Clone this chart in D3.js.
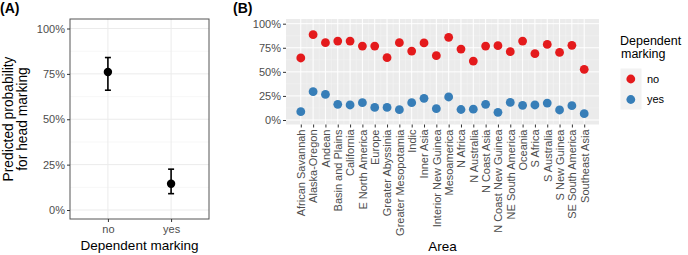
<!DOCTYPE html>
<html>
<head>
<meta charset="utf-8">
<script src="https://cdn.jsdelivr.net/npm/d3@7"></script>
<style>
  html, body { margin: 0; padding: 0; background: #fff; }
  svg { display: block; font-family: "Liberation Sans", Arial, sans-serif; }
</style>
</head>
<body>
<div id="chart"></div>
<script>
// ---- data ----
const depCategories = ['no', 'yes']
const headProb = [0.76, 0.145]
const headLower = [0.66, 0.09]
const headUpper = [0.84, 0.225]

const areas = [
  'African Savannah', 'Alaska-Oregon', 'Andean', 'Basin and Plains', 'California',
  'E North America', 'Europe', 'Greater Abyssinia', 'Greater Mesopotamia', 'Indic',
  'Inner Asia', 'Interior New Guinea', 'Mesoamerica', 'N Africa', 'N Australia',
  'N Coast Asia', 'N Coast New Guinea', 'NE South America', 'Oceania', 'S Africa',
  'S Australia', 'S New Guinea', 'SE South America', 'Southeast Asia'
]
const noValues = [
  0.644, 0.886, 0.803, 0.82, 0.82, 0.768, 0.768, 0.647, 0.803, 0.716,
  0.80, 0.668, 0.858, 0.737, 0.612, 0.768, 0.772, 0.71, 0.82, 0.689,
  0.785, 0.702, 0.775, 0.526
]
const yesValues = [
  0.086, 0.294, 0.266, 0.163, 0.156, 0.18, 0.131, 0.131, 0.107, 0.18,
  0.225, 0.118, 0.239, 0.109, 0.112, 0.163, 0.08, 0.183, 0.152, 0.156,
  0.176, 0.104, 0.149, 0.066
]
const pctTicks = [0, 0.25, 0.5, 0.75, 1]
const minorTicks = [0.125, 0.375, 0.625, 0.875]
const legendLabels = ['no', 'yes']
const seriesColors = ['#E41A1C', '#377EB8']

const W = 688, H = 255
const tickFill = '#4D4D4D'
const fmt = d3.format('.0%')

const svg = d3.select('#chart').append('svg')
  .attr('width', W).attr('height', H)

function styleAxis(g) {
  g.select('.domain').remove()
  g.selectAll('.tick line').attr('stroke', '#333333')
  g.selectAll('.tick text')
    .attr('fill', tickFill).attr('font-size', '11px')
    .attr('font-family', '"Liberation Sans", Arial, sans-serif')
}

// ================= Panel A =================
const A = { left: 70, right: 209, top: 19, bottom: 219 }
const xA = d3.scalePoint().domain(depCategories).range([A.left, A.right]).padding(0.6)
const yA = d3.scaleLinear().domain([0, 1]).range([210, 28.5])

svg.append('text')
  .attr('x', 0).attr('y', 13)
  .attr('font-size', '14px').attr('font-weight', 'bold')
  .attr('fill', '#000').text('(A)')

const gA = svg.append('g')
gA.append('rect')
  .attr('x', A.left).attr('y', A.top)
  .attr('width', A.right - A.left).attr('height', A.bottom - A.top)
  .attr('fill', '#fff')

gA.selectAll('.minor').data(minorTicks).join('line')
  .attr('x1', A.left).attr('x2', A.right)
  .attr('y1', d => yA(d)).attr('y2', d => yA(d))
  .attr('stroke', '#F2F2F2').attr('stroke-width', 0.6)
gA.selectAll('.major').data(pctTicks).join('line')
  .attr('x1', A.left).attr('x2', A.right)
  .attr('y1', d => yA(d)).attr('y2', d => yA(d))
  .attr('stroke', '#EBEBEB').attr('stroke-width', 1)
gA.selectAll('.vgrid').data(depCategories).join('line')
  .attr('x1', d => xA(d)).attr('x2', d => xA(d))
  .attr('y1', A.top).attr('y2', A.bottom)
  .attr('stroke', '#EBEBEB').attr('stroke-width', 1)

// error bars
depCategories.forEach((c, i) => {
  const x = xA(c)
  const eb = gA.append('g').attr('stroke', '#000').attr('stroke-width', 1.6)
  eb.append('line').attr('x1', x).attr('x2', x)
    .attr('y1', yA(headLower[i])).attr('y2', yA(headUpper[i]))
  eb.append('line').attr('x1', x - 3).attr('x2', x + 3)
    .attr('y1', yA(headLower[i])).attr('y2', yA(headLower[i]))
  eb.append('line').attr('x1', x - 3).attr('x2', x + 3)
    .attr('y1', yA(headUpper[i])).attr('y2', yA(headUpper[i]))
  gA.append('circle').attr('cx', x).attr('cy', yA(headProb[i]))
    .attr('r', 4.2).attr('fill', '#000')
})

gA.append('rect')
  .attr('x', A.left).attr('y', A.top)
  .attr('width', A.right - A.left).attr('height', A.bottom - A.top)
  .attr('fill', 'none').attr('stroke', '#555').attr('stroke-width', 1)

svg.append('g')
  .attr('transform', `translate(${A.left},0)`)
  .call(d3.axisLeft(yA).tickValues(pctTicks).tickFormat(fmt).tickSize(3).tickPadding(2))
  .call(styleAxis)

svg.append('g')
  .attr('transform', `translate(0,${A.bottom})`)
  .call(d3.axisBottom(xA).tickSize(3).tickPadding(3))
  .call(styleAxis)

svg.append('text')
  .attr('x', (A.left + A.right) / 2).attr('y', 249.5)
  .attr('text-anchor', 'middle').attr('font-size', '13.5px').attr('fill', '#000')
  .text('Dependent marking')

const yTitle = svg.append('text')
  .attr('transform', `translate(13,${(A.top + A.bottom) / 2}) rotate(-90)`)
  .attr('text-anchor', 'middle').attr('font-size', '13.8px').attr('fill', '#000')
yTitle.append('tspan').attr('x', 0).attr('y', 0).text('Predicted probability')
yTitle.append('tspan').attr('x', 0).attr('y', 13.5).text('for head marking')

// ================= Panel B =================
const B = { left: 286, right: 599, top: 19, bottom: 124.5 }
const xB = d3.scalePoint().domain(areas).range([B.left, B.right]).padding(1.2)
const yB = d3.scaleLinear().domain([0, 1]).range([120, 23.7])

svg.append('text')
  .attr('x', 233).attr('y', 13)
  .attr('font-size', '14px').attr('font-weight', 'bold')
  .attr('fill', '#000').text('(B)')

const gB = svg.append('g')
gB.append('rect')
  .attr('x', B.left).attr('y', B.top)
  .attr('width', B.right - B.left).attr('height', B.bottom - B.top)
  .attr('fill', '#EBEBEB')

const stepB = xB.step()
gB.selectAll('.vminor').data(areas.slice(1)).join('line')
  .attr('x1', d => xB(d) - stepB / 2).attr('x2', d => xB(d) - stepB / 2)
  .attr('y1', B.top).attr('y2', B.bottom)
  .attr('stroke', '#F5F5F5').attr('stroke-width', 0.5)
gB.selectAll('.minor').data(minorTicks).join('line')
  .attr('x1', B.left).attr('x2', B.right)
  .attr('y1', d => yB(d)).attr('y2', d => yB(d))
  .attr('stroke', '#F5F5F5').attr('stroke-width', 0.5)
gB.selectAll('.major').data(pctTicks).join('line')
  .attr('x1', B.left).attr('x2', B.right)
  .attr('y1', d => yB(d)).attr('y2', d => yB(d))
  .attr('stroke', '#fff').attr('stroke-width', 1)
gB.selectAll('.vgrid').data(areas).join('line')
  .attr('x1', d => xB(d)).attr('x2', d => xB(d))
  .attr('y1', B.top).attr('y2', B.bottom)
  .attr('stroke', '#fff').attr('stroke-width', 1)

gB.selectAll('.dot-no').data(areas).join('circle')
  .attr('cx', d => xB(d)).attr('cy', (d, i) => yB(noValues[i]))
  .attr('r', 4.4).attr('fill', seriesColors[0])
gB.selectAll('.dot-yes').data(areas).join('circle')
  .attr('cx', d => xB(d)).attr('cy', (d, i) => yB(yesValues[i]))
  .attr('r', 4.4).attr('fill', seriesColors[1])

svg.append('g')
  .attr('transform', `translate(${B.left},0)`)
  .call(d3.axisLeft(yB).tickValues(pctTicks).tickFormat(fmt).tickSize(3).tickPadding(2))
  .call(styleAxis)

svg.append('g')
  .attr('transform', `translate(0,${B.bottom})`)
  .call(d3.axisBottom(xB).tickSize(3).tickPadding(2))
  .call(styleAxis)
  .call(g => g.selectAll('.tick text')
    .attr('transform', 'rotate(-90)')
    .attr('text-anchor', 'end')
    .attr('x', -5).attr('y', 0).attr('dy', '0.35em'))

svg.append('text')
  .attr('x', (B.left + B.right) / 2).attr('y', 250.5)
  .attr('text-anchor', 'middle').attr('font-size', '13.5px').attr('fill', '#000')
  .text('Area')

// ---- legend ----
const leg = svg.append('g').attr('transform', 'translate(620,0)')
leg.append('text').attr('x', 0).attr('y', 45)
  .attr('font-size', '12.5px').attr('fill', '#000').text('Dependent')
leg.append('text').attr('x', 1).attr('y', 58)
  .attr('font-size', '12.5px').attr('fill', '#000').text('marking')
legendLabels.forEach((lab, i) => {
  const y0 = 68.5 + i * 20.5
  leg.append('rect').attr('x', 0.5).attr('y', y0)
    .attr('width', 21).attr('height', 20.5).attr('fill', '#F2F2F2')
  leg.append('circle').attr('cx', 10.8).attr('cy', y0 + 10.5)
    .attr('r', 4.4).attr('fill', seriesColors[i])
  leg.append('text').attr('x', 27).attr('y', y0 + 14.3)
    .attr('font-size', '11px').attr('fill', '#000').text(lab)
})
</script>
</body>
</html>
